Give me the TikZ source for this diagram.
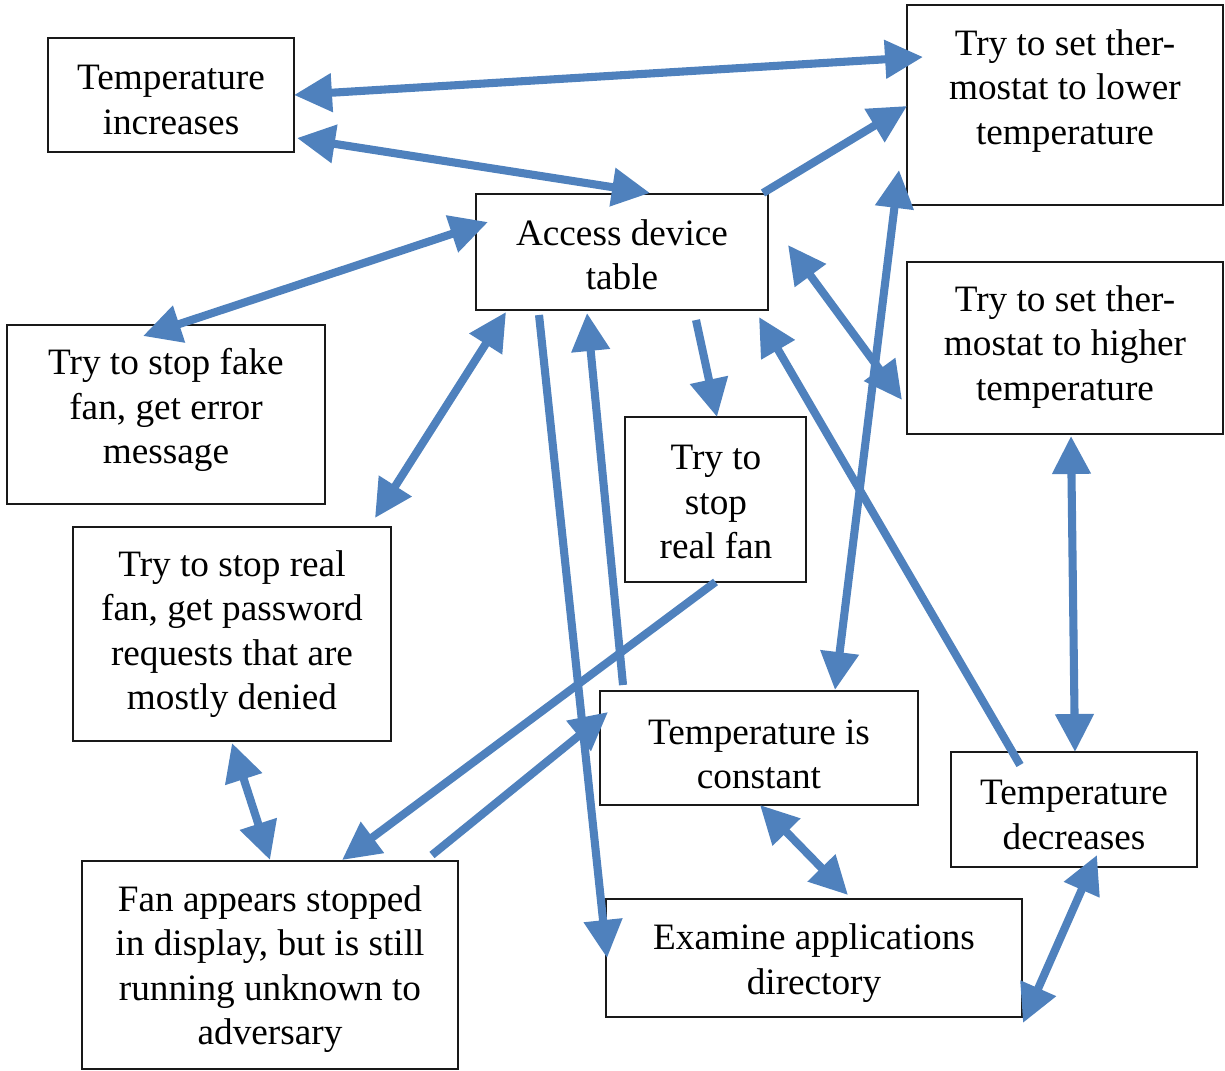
\documentclass[tikz,border=0pt]{standalone}
\usepackage{fontspec}
\setmainfont{Liberation Serif}
\usetikzlibrary{arrows.meta}
\definecolor{flowblue}{HTML}{4F81BD}
\begin{document}
\begin{tikzpicture}[x=0.02cm,y=-0.02cm,
  box/.style={draw=black!90,line width=1.1pt,inner sep=0pt,outer sep=0pt},
  txt/.style={align=center,font=\fontsize{21.2}{25.2}\selectfont,inner sep=0pt},
  tip/.tip={Triangle[length=0.76cm,width=0.74cm]},
  link/.style={color=flowblue,line width=4.6pt,-tip},
  both/.style={color=flowblue,line width=4.6pt,tip-tip}]
\useasboundingbox (0,0) rectangle (1225,1071);

% boxes
\node[box,minimum width=4.92cm,minimum height=2.28cm] (TI) at (171,95) {};
\node[box,minimum width=6.32cm,minimum height=4.00cm] (TL) at (1065,105) {};
\node[box,minimum width=5.84cm,minimum height=2.32cm] (AD) at (622,252) {};
\node[box,minimum width=6.36cm,minimum height=3.58cm] (FF) at (166,414.5) {};
\node[box,minimum width=6.32cm,minimum height=3.44cm] (TH) at (1065,348) {};
\node[box,minimum width=3.62cm,minimum height=3.30cm] (RF) at (715.5,499.5) {};
\node[box,minimum width=6.36cm,minimum height=4.28cm] (PW) at (232,634) {};
\node[box,minimum width=6.36cm,minimum height=2.28cm] (TC) at (759,748) {};
\node[box,minimum width=4.92cm,minimum height=2.30cm] (TD) at (1074,809.5) {};
\node[box,minimum width=7.52cm,minimum height=4.16cm] (FA) at (270,965) {};
\node[box,minimum width=8.32cm,minimum height=2.36cm] (EA) at (814,958) {};

% labels
\node[txt] (TI-t) at (171,100) {Temperature\\increases};
\node[txt] (TL-t) at (1065,91) {Try to set ther-\\mostat to lower\\temperature};
\node[txt] (AD-t) at (622,255) {Access device\\table};
\node[txt] (FF-t) at (166,410) {Try to stop fake\\fan, get error\\message};
\node[txt] (TH-t) at (1065,347) {Try to set ther-\\mostat to higher\\temperature};
\node[txt] (RF-t) at (716,502) {Try to\\stop\\real fan};
\node[txt] (PW-t) at (232,634) {Try to stop real\\fan, get password\\requests that are\\mostly denied};
\node[txt] (TC-t) at (759,754) {Temperature is\\constant};
\node[txt] (TD-t) at (1074,815) {Temperature\\decreases};
\node[txt] (FA-t) at (270,969) {Fan appears stopped\\in display, but is still\\running unknown to\\adversary};
\node[txt] (EA-t) at (814,963) {Examine applications\\directory};

% connectors
\draw[both] (TI.east) -- ([shift={(16,-48)}]TL.west);
\draw[both] ([shift={(3,43)}]TI.east) -- ([shift={(28,-1)}]AD.north);
\draw[link] ([shift={(-5,-1)}]AD.north east) -- ([shift={(0,1)}]TL.west);
\draw[both] ([shift={(-23,11)}]FF.north) -- ([shift={(12,-30)}]AD.west);
\draw[both] ([shift={(30,2)}]AD.south west) -- ([shift={(-16,-9)}]PW.north east);
\draw[link] ([shift={(63,5)}]AD.south west) -- ([shift={(1,0)}]EA.west);
\draw[link] ([shift={(23,-6)}]TC.north west) -- ([shift={(111,3)}]AD.south west);
\draw[link] ([shift={(74,10)}]AD.south) -- ([shift={(1.5,0)}]RF.north);
\draw[both] ([shift={(20,-7)}]AD.east) -- ([shift={(-5,52)}]TH.west);
\draw[link] ([shift={(69,13)}]TD.north west) -- ([shift={(-9,7)}]AD.south east);
\draw[both] ([shift={(-8,-35)}]TL.south west) -- ([shift={(76,-1)}]TC.north);
\draw[both] ([shift={(6,2)}]TH.south) -- ([shift={(1,0)}]TD.north);
\draw[link] (RF.south) -- ([shift={(72,-1)}]FA.north);
\draw[link] ([shift={(-26,-6)}]FA.north east) -- ([shift={(8,-36)}]TC.west);
\draw[both] ([shift={(0,2)}]PW.south) -- ([shift={(0,-1)}]FA.north);
\draw[both] ([shift={(1,0)}]TC.south) -- ([shift={(34,-4)}]EA.north);
\draw[both] ([shift={(23,-12)}]TD.south) -- ([shift={(1,6)}]EA.south east);
\end{tikzpicture}
\end{document}
